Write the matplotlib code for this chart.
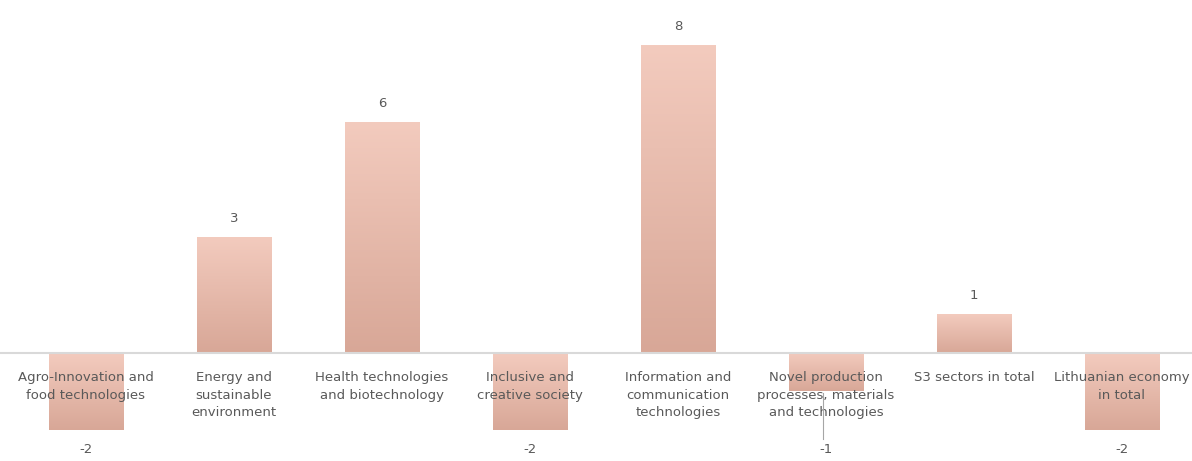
import numpy as np
import matplotlib.pyplot as plt
from matplotlib.colors import LinearSegmentedColormap

# Data
categories = ['Agro-Innovation and\nfood technologies',
              'Energy and\nsustainable\nenvironment',
              'Health technologies\nand biotechnology',
              'Inclusive and\ncreative society',
              'Information and\ncommunication\ntechnologies',
              'Novel production\nprocesses, materials\nand technologies',
              'S3 sectors in total',
              'Lithuanian economy\nin total']
values = [-2, 3, 6, -2, 8, -1, 1, -2]

fig = plt.figure(figsize=(11.92, 4.61), dpi=100)
ax = fig.add_axes([0, 0, 1, 1])
ax.set_xlim(-0.581, 7.473)
ax.set_ylim(-2.81, 9.19)
ax.axis('off')

# gradient from light (top) to darker salmon (bottom)
cmap = LinearSegmentedColormap.from_list('salmon', ['#d8a797', '#f3cbbe'])
grad = np.linspace(0, 1, 256).reshape(-1, 1)

x = np.arange(len(values))
bars = ax.bar(x, values, width=0.5, color='none', edgecolor='none', zorder=2)
for b in bars:
    x0, y0 = b.get_x(), b.get_y()
    w, h = b.get_width(), b.get_height()
    ylo, yhi = min(y0, y0 + h), max(y0, y0 + h)
    ax.imshow(grad, cmap=cmap, origin='lower', aspect='auto',
              extent=[x0, x0 + w, ylo, yhi], zorder=1)

ax.axhline(0, color='#d9d9d9', lw=1.5, zorder=3)

# category labels just below the baseline
for xi, lab in zip(x, categories):
    ax.text(xi, -0.47, lab, ha='center', va='top', fontsize=9.5,
            color='#595959', linespacing=1.45, zorder=4)

# value labels (negative ones all sit below the category labels)
for xi, v in zip(x, values):
    if v >= 0:
        ax.text(xi, v + 0.5, str(v), ha='center', va='center',
                fontsize=9.5, color='#595959')
    else:
        ax.text(xi, -2.5, str(v), ha='center', va='center',
                fontsize=9.5, color='#595959')

# leader line for the moved -1 label
ax.plot([5 - 0.02, 5 - 0.02], [-1.05, -2.25], color='#a6a6a6', lw=0.8, zorder=4)

fig.savefig('out.png', dpi=100)
